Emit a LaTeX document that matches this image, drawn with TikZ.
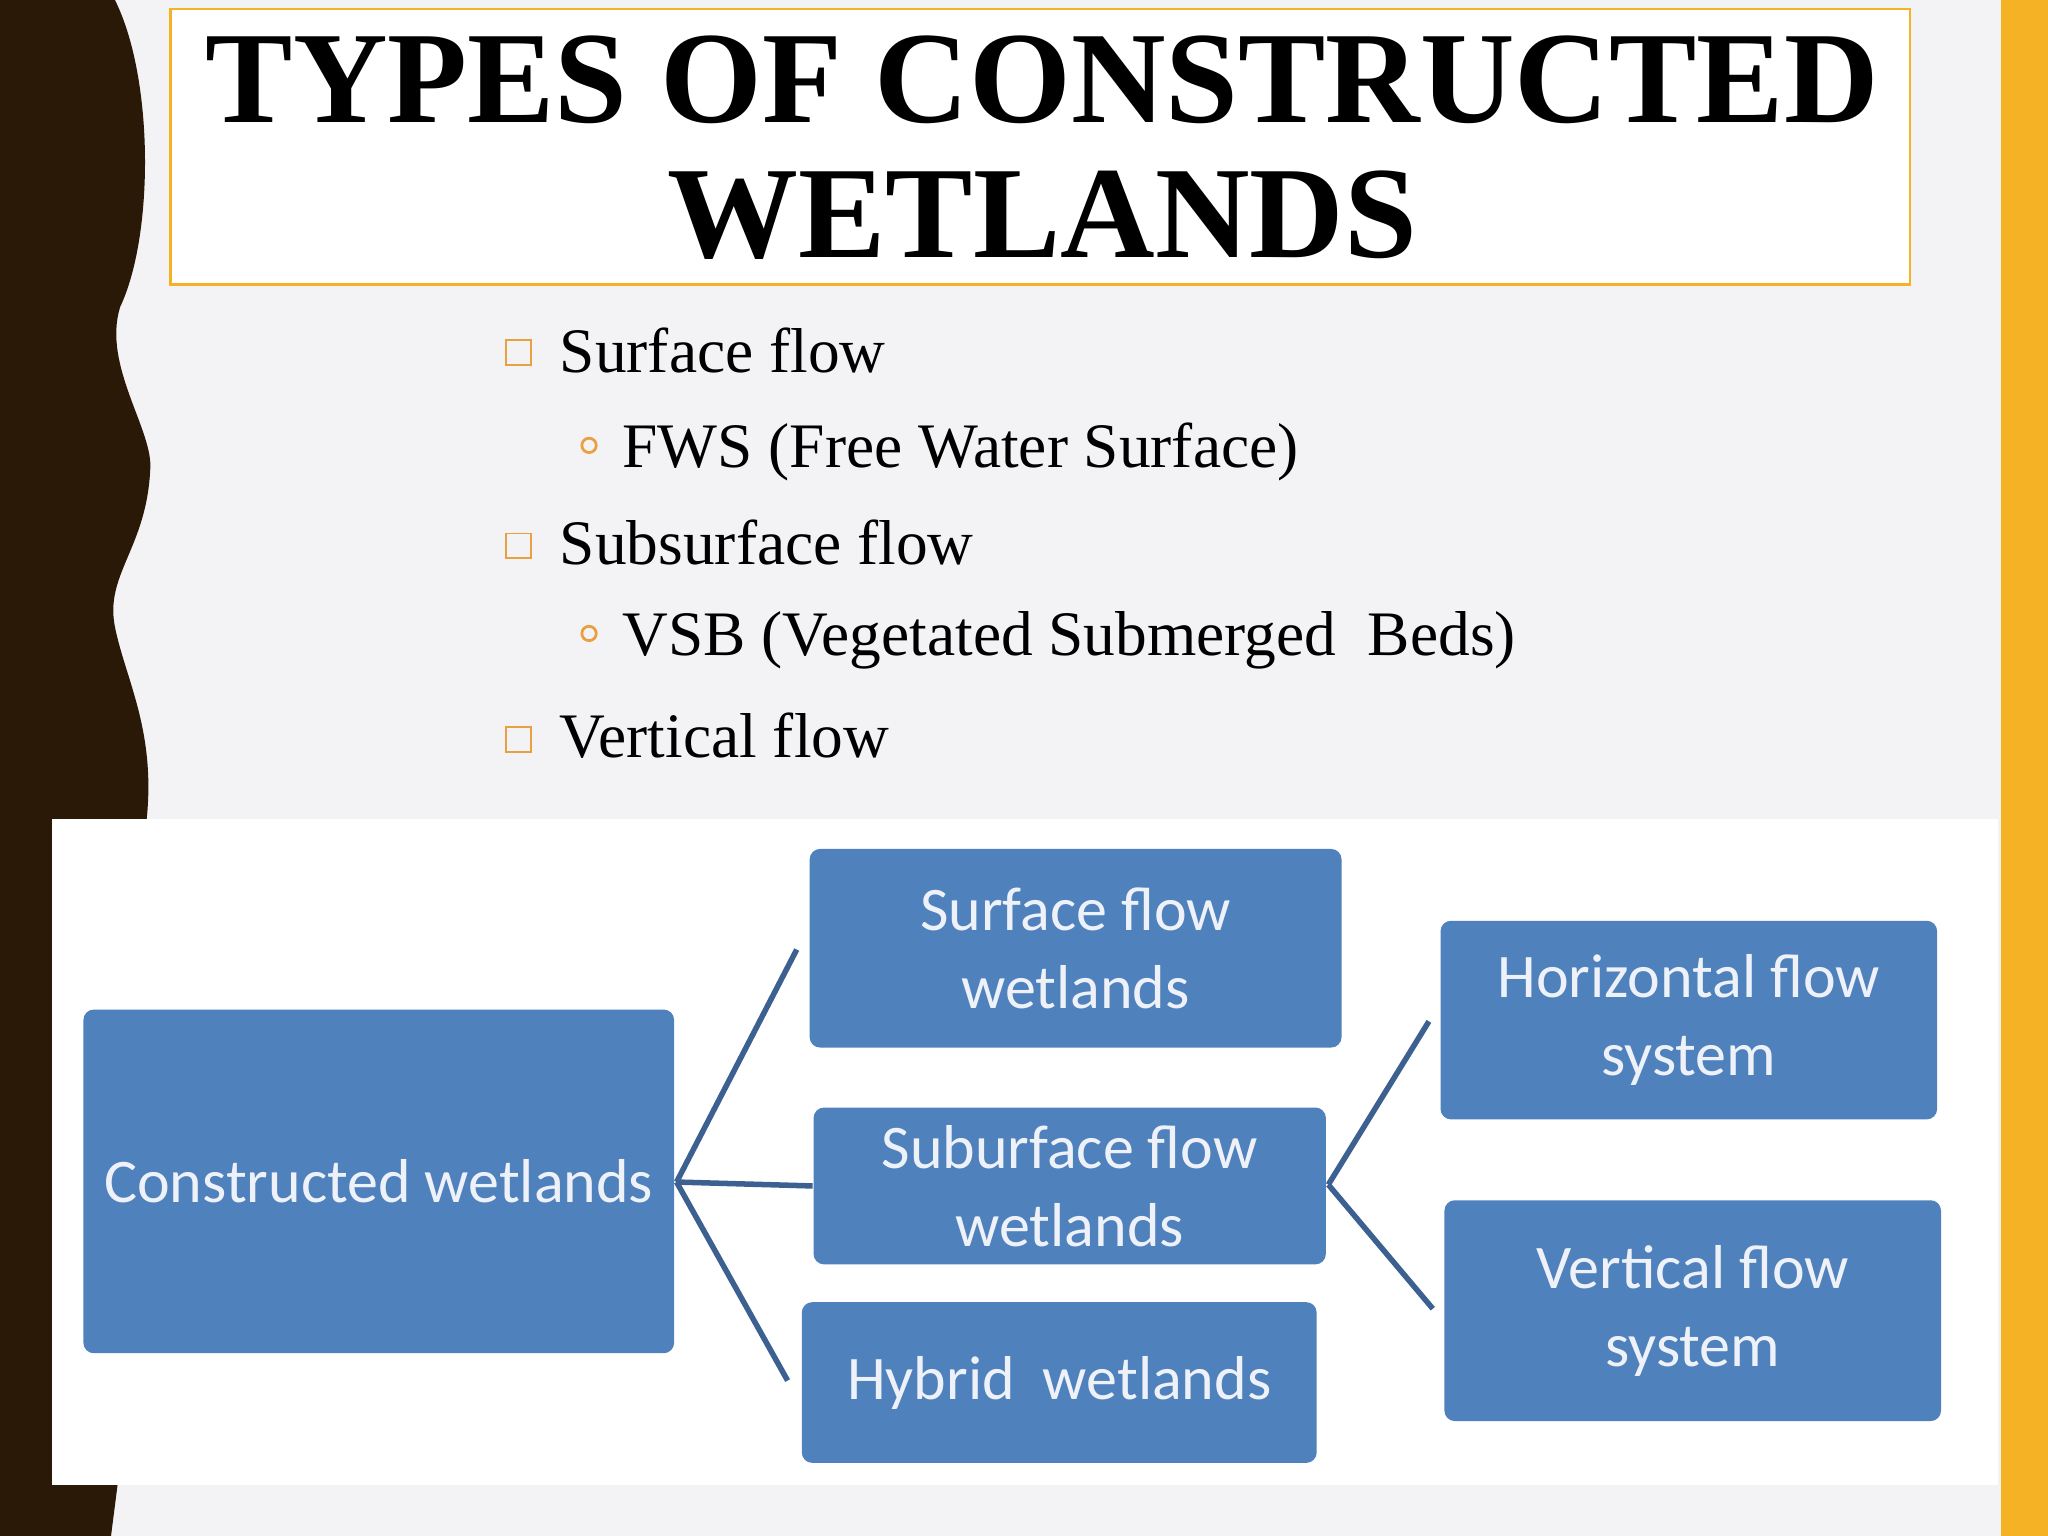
\documentclass[tikz,border=0pt]{standalone}
\usepackage{fontspec}
\setmainfont{Liberation Serif}
\newfontfamily\boxfont{Carlito}
\begin{document}
\begin{tikzpicture}[x=0.01cm,y=-0.01cm,
  box/.style={draw=none,fill=boxblue,rounded corners=0.08cm,font=\boxfont\fontsize{13.5}{17}\selectfont,text=boxtxt,align=center,inner sep=0pt},
  con/.style={draw=conblue,line width=1.2pt},
  bul/.style={anchor=base west,font=\fontsize{13.8}{16}\selectfont,inner sep=0pt}]
\definecolor{boxblue}{HTML}{4F81BD}
\definecolor{boxtxt}{HTML}{EEF2F8}
\definecolor{conblue}{HTML}{3C6191}
\definecolor{bg}{HTML}{F3F2F4}
\definecolor{brown}{HTML}{2A1906}
\definecolor{gold}{HTML}{F5B224}
\definecolor{orng}{HTML}{E8A040}
\useasboundingbox (0,0) rectangle (1568,1176);
\fill[bg] (0,0) rectangle (1568,1176);
\fill[brown] (0,0) -- (88,0) .. controls (118,60) and (118,180) .. (92,235)
  .. controls (78,280) and (118,330) .. (115,360)
  .. controls (112,420) and (80,440) .. (88,480)
  .. controls (96,520) and (120,560) .. (112,630) -- (40,630) -- (40,1137) -- (90,1137) -- (85,1176) -- (0,1176) -- cycle;
\fill[gold] (1532,0) rectangle (1568,1176);
\node[draw=gold,fill=white,line width=0.6pt,minimum width=13.31cm,minimum height=2.11cm,inner sep=0pt] (title) at (796.5,112.5) {};
\node[font=\bfseries\fontsize{28.5}{29.5}\selectfont,anchor=base] (t1) at (798,94) {TYPES OF CONSTRUCTED};
\node[font=\bfseries\fontsize{28.5}{29.5}\selectfont,anchor=base] (t2) at (798,197) {WETLANDS};
\node[bul] (b1) at (428,285) {Surface flow};
\node[bul] (b2) at (476,358) {FWS (Free Water Surface)};
\node[bul] (b3) at (428,432) {Subsurface flow};
\node[bul] (b4) at (476,502) {VSB (Vegetated Submerged\ \ Beds)};
\node[bul] (b5) at (428,580) {Vertical flow};
\foreach \y/\n in {270/s1,418/s2,566/s3}{\node[draw=orng,line width=0.4pt,minimum size=0.19cm,inner sep=0pt] (\n) at (397,\y) {};}
\foreach \y/\n in {341/c1,485/c2}{\node[draw=orng,line width=0.6pt,circle,minimum size=0.11cm,inner sep=0pt] (\n) at (451,\y) {};}
\fill[white] (40,627) rectangle (1530,1137);
\node[box,minimum width=4.52cm,minimum height=2.63cm] (cw) at (290,904.5) {Constructed wetlands};
\node[box,minimum width=4.07cm,minimum height=1.52cm] (sf) at (823.5,726) {Surface flow\\wetlands};
\node[box,minimum width=3.92cm,minimum height=1.20cm] (ss) at (819,908) {Suburface flow\\wetlands};
\node[box,minimum width=3.94cm,minimum height=1.23cm] (hy) at (811,1058.5) {Hybrid\ \ wetlands};
\node[box,minimum width=3.80cm,minimum height=1.52cm] (hf) at (1293,781) {Horizontal flow\\system};
\node[box,minimum width=3.80cm,minimum height=1.69cm] (vf) at (1296,1003.5) {Vertical flow\\system};
\coordinate (j1) at (518,905);
\coordinate (j2) at (1017,907);
\draw[con] (j1) -- (610,727);
\draw[con] (j1) -- (ss.west);
\draw[con] (j1) -- (603,1057);
\draw[con] (j2) -- (1094,782);
\draw[con] (j2) -- (1097,1002);
\end{tikzpicture}
\end{document}
